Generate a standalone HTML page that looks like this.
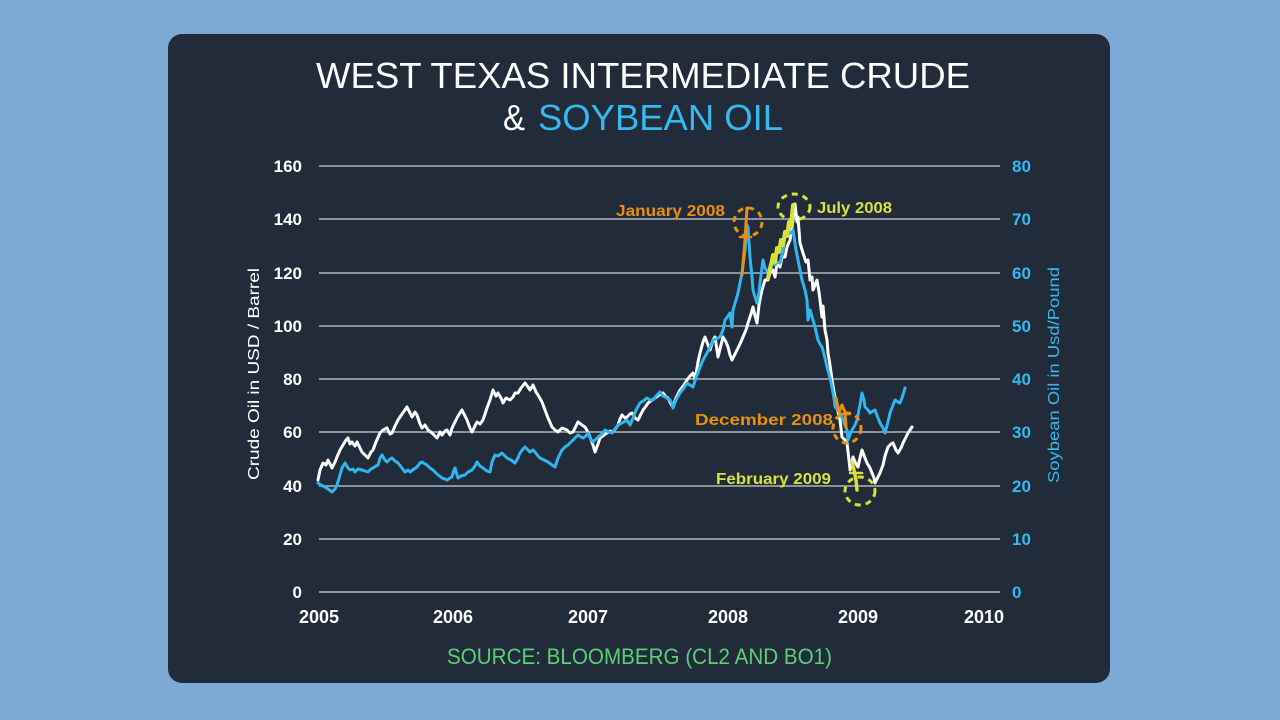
<!DOCTYPE html>
<html>
<head>
<meta charset="utf-8">
<style>
html,body{margin:0;padding:0;width:1280px;height:720px;overflow:hidden;background:#7ea9d7;}
svg{display:block;}
</style>
</head>
<body>
<svg width="1280" height="720" viewBox="0 0 1280 720" xmlns="http://www.w3.org/2000/svg" font-family="Liberation Sans, Arial, sans-serif">
  <rect x="0" y="0" width="1280" height="720" fill="#7ea9d7"/>
  <rect x="168" y="34" width="942" height="649" rx="14" ry="14" fill="#222b3a"/>

  <!-- Title -->
  <text x="316" y="88" font-size="36" fill="#ffffff" textLength="654" lengthAdjust="spacingAndGlyphs">WEST TEXAS INTERMEDIATE CRUDE</text>
  <text x="503" y="130" font-size="36" fill="#ffffff" textLength="22" lengthAdjust="spacingAndGlyphs">&amp;</text>
  <text x="538" y="130" font-size="36" fill="#35b9ee" textLength="245" lengthAdjust="spacingAndGlyphs">SOYBEAN OIL</text>

  <!-- Gridlines -->
  <g stroke="#aeb4bb" stroke-width="1.5">
    <line x1="319" y1="166" x2="1000" y2="166"/>
    <line x1="319" y1="219" x2="1000" y2="219"/>
    <line x1="319" y1="273" x2="1000" y2="273"/>
    <line x1="319" y1="326" x2="1000" y2="326"/>
    <line x1="319" y1="379" x2="1000" y2="379"/>
    <line x1="319" y1="432" x2="1000" y2="432"/>
    <line x1="319" y1="486" x2="1000" y2="486"/>
    <line x1="319" y1="539" x2="1000" y2="539"/>
    <line x1="319" y1="592" x2="1000" y2="592"/>
  </g>

  <!-- Left tick labels -->
  <g font-size="17" font-weight="bold" fill="#ffffff" text-anchor="end">
    <text x="302" y="172">160</text>
    <text x="302" y="225">140</text>
    <text x="302" y="279">120</text>
    <text x="302" y="332">100</text>
    <text x="302" y="385">80</text>
    <text x="302" y="438">60</text>
    <text x="302" y="492">40</text>
    <text x="302" y="545">20</text>
    <text x="302" y="598">0</text>
  </g>
  <!-- Right tick labels -->
  <g font-size="17" font-weight="bold" fill="#35b9ee" text-anchor="start">
    <text x="1012" y="172">80</text>
    <text x="1012" y="225">70</text>
    <text x="1012" y="279">60</text>
    <text x="1012" y="332">50</text>
    <text x="1012" y="385">40</text>
    <text x="1012" y="438">30</text>
    <text x="1012" y="492">20</text>
    <text x="1012" y="545">10</text>
    <text x="1012" y="598">0</text>
  </g>
  <!-- X labels -->
  <g font-size="18" font-weight="bold" fill="#ffffff" text-anchor="middle">
    <text x="319" y="623">2005</text>
    <text x="453" y="623">2006</text>
    <text x="588" y="623">2007</text>
    <text x="728" y="623">2008</text>
    <text x="858" y="623">2009</text>
    <text x="984" y="623">2010</text>
  </g>

  <!-- Axis titles -->
  <text transform="translate(259,374) rotate(-90)" font-size="16" fill="#ffffff" text-anchor="middle" textLength="212" lengthAdjust="spacingAndGlyphs">Crude Oil in USD / Barrel</text>
  <text transform="translate(1059,375) rotate(-90)" font-size="16" fill="#35b9ee" text-anchor="middle" textLength="216" lengthAdjust="spacingAndGlyphs">Soybean Oil in Usd/Pound</text>

  <!-- White series (crude) -->
  <polyline fill="none" stroke="#ffffff" stroke-width="3" stroke-linejoin="round" stroke-linecap="round" points="318,480 320,470 323,463 326,465 328,460 330,464 332,468 335,462 337,457 340,450 343,445 346,440 348,438 350,444 352,442 355,446 357,442 360,448 362,452 365,455 368,458 371,452 373,450 376,442 380,433 383,430 387,428 390,434 392,433 395,426 398,420 402,414 405,410 407,407 410,413 412,417 415,412 417,415 420,424 422,428 425,425 428,430 432,433 437,438 440,432 442,435 445,431 447,430 450,435 452,428 455,422 458,416 462,410 465,416 467,420 470,428 472,432 475,426 477,422 480,424 483,420 485,414 487,408 490,400 493,390 496,396 498,393 501,398 503,403 506,398 510,400 513,397 515,393 518,393 521,388 525,383 528,387 530,390 533,385 536,392 538,395 542,402 545,410 548,418 552,427 555,430 558,432 562,428 567,430 570,433 573,432 576,426 578,422 582,425 585,427 588,432 590,437 593,445 595,452 598,444 600,438 604,435 607,433 610,431 613,432 616,428 618,425 620,419 622,415 625,418 627,417 630,414 632,413 635,418 638,420 641,414 643,410 646,406 648,403 652,400 655,398 659,395 663,393 666,397 668,398 671,404 673,407 676,398 680,390 684,385 687,380 690,376 693,373 695,380 698,362 700,353 703,342 705,337 708,345 710,350 713,340 715,337 717,350 718,357 721,345 723,337 726,342 728,347 730,355 732,360 735,354 737,350 740,344 743,337 746,330 748,323 751,314 753,307 755,316 757,323 759,305 762,290 765,280 768,280 770,273 773,270 775,277 777,263 780,267 782,257 785,257 787,247 790,240 792,227 794,212 795,204 797,222 798,217 800,243 803,253 806,262 808,260 810,280 812,277 813,290 815,285 817,280 819,292 820,300 822,317 823,306 825,330 827,340 828,353 830,365 832,380 834,392 837,407 840,420 842,437 845,440 847,443 849,460 850,470 852,462 853,457 856,464 858,467 860,458 862,450 865,458 867,463 870,468 872,473 874,478 875,483 878,477 880,473 883,465 885,456 888,447 891,444 893,443 896,450 898,453 901,448 903,443 906,437 908,433 910,430 912,427"/>

  <!-- Blue series (soybean) -->
  <polyline fill="none" stroke="#2fb6ee" stroke-width="3" stroke-linejoin="round" stroke-linecap="round" points="318,483 321,485 325,487 328,489 332,492 335,489 337,485 340,475 342,468 345,463 348,468 350,470 353,469 355,472 358,469 362,470 365,471 368,472 371,469 373,468 376,466 378,465 380,458 382,455 385,460 387,462 390,459 392,458 395,461 398,463 402,468 405,472 408,470 410,472 414,469 417,467 420,463 422,462 425,464 427,465 430,468 433,470 437,474 442,478 445,479 447,480 450,478 452,477 454,470 455,468 457,475 458,478 461,476 465,475 468,472 472,470 475,466 477,462 480,466 483,468 487,471 490,472 492,462 495,455 498,456 502,453 505,456 507,458 511,460 515,463 518,458 520,453 523,449 525,447 528,450 530,452 533,450 535,452 538,456 540,458 544,460 548,462 552,465 555,467 558,458 562,450 565,447 568,445 571,442 573,440 576,437 578,435 581,437 583,438 586,436 588,433 591,440 593,442 596,439 598,437 602,434 605,430 609,432 612,433 615,429 618,425 622,423 627,420 630,425 633,418 636,410 640,403 643,401 647,398 650,400 653,400 656,396 660,392 663,396 665,397 668,399 670,400 672,404 673,408 676,400 680,393 684,388 687,383 690,385 693,387 696,378 700,367 703,360 707,353 710,347 713,340 716,339 720,337 723,330 725,320 728,316 730,313 732,327 733,310 736,300 738,293 740,283 742,273 745,250 747,225 748,227 750,257 752,277 753,290 755,297 757,303 759,292 760,283 762,268 763,260 765,268 768,273 770,266 772,260 775,265 777,262 780,263 783,250 785,237 788,234 790,233 792,232 793,230 796,250 798,260 800,270 802,280 805,290 807,300 808,320 810,310 813,320 815,327 818,340 820,344 822,347 825,358 827,367 830,378 832,387 834,398 835,407 838,410 840,413 843,420 845,425 847,430 848,440 850,435 852,430 855,425 857,420 860,405 862,393 864,400 865,407 868,410 870,413 873,411 875,410 878,418 880,423 883,428 885,433 888,422 890,413 893,405 895,400 898,402 900,403 903,395 905,388"/>

  <!-- Highlights -->
  <g fill="none" stroke-linecap="round" stroke-linejoin="round">
    <polyline stroke="#e8900f" stroke-width="3" points="742,275 745,240 747,208"/>
    <line x1="740" y1="237" x2="751" y2="237" stroke="#e8900f" stroke-width="2.5"/>
    <polyline stroke="#d9e23a" stroke-width="4" points="768,278 771,265 773,255 775,262 777,248 779,252 781,240 783,245 785,232 787,236 789,222 791,226 793,205"/>
    <polyline stroke="#e8900f" stroke-width="3" points="836,398 839,412 842,405 845,412 846,427"/>
    <line x1="841" y1="414" x2="850" y2="414" stroke="#e8900f" stroke-width="2.5"/>
    <polyline stroke="#d9e23a" stroke-width="3.5" points="852,462 854,470 856,480 857,490"/>
    <line x1="850" y1="473" x2="862" y2="473" stroke="#d9e23a" stroke-width="2.5"/>
  </g>

  <!-- Dashed circles -->
  <g fill="none" stroke-width="3" stroke-dasharray="6 5">
    <ellipse cx="748" cy="222" rx="14" ry="14" stroke="#e8900f"/>
    <ellipse cx="794" cy="207" rx="16" ry="13" stroke="#d9e23a"/>
    <ellipse cx="847" cy="428" rx="14" ry="15" stroke="#e8900f"/>
    <ellipse cx="860" cy="491" rx="15" ry="14" stroke="#d9e23a"/>
  </g>

  <!-- Annotations -->
  <g font-size="16" font-weight="bold">
    <text x="616" y="216" fill="#e8900f" textLength="109" lengthAdjust="spacingAndGlyphs">January 2008</text>
    <text x="817" y="213" fill="#d9e23a" textLength="75" lengthAdjust="spacingAndGlyphs">July 2008</text>
    <text x="695" y="425" fill="#e8900f" textLength="138" lengthAdjust="spacingAndGlyphs">December 2008</text>
    <text x="716" y="484" fill="#d9e23a" textLength="115" lengthAdjust="spacingAndGlyphs">February 2009</text>
  </g>

  <!-- Source -->
  <text x="447" y="664" font-size="22" fill="#5cce78" textLength="385" lengthAdjust="spacingAndGlyphs">SOURCE: BLOOMBERG (CL2 AND BO1)</text>
</svg>
</body>
</html>
